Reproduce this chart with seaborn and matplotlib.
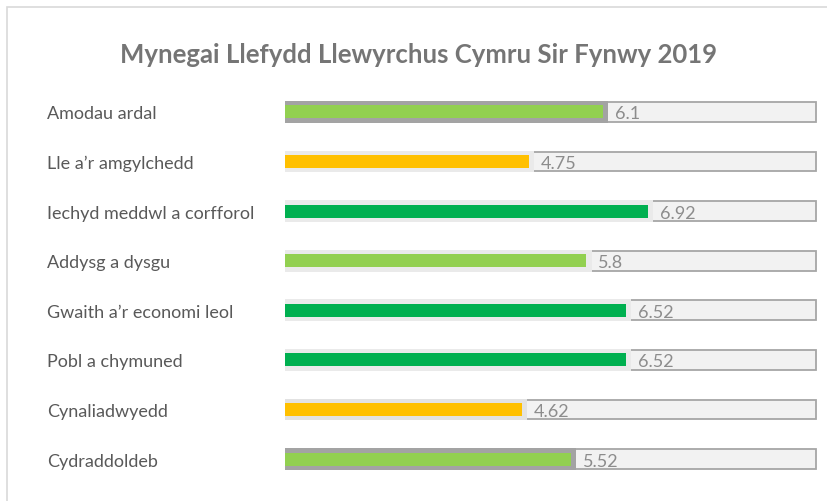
import matplotlib
matplotlib.use("Agg")
import matplotlib.pyplot as plt
import seaborn as sns
import pandas as pd
from matplotlib.patches import Rectangle

categories = ["Amodau ardal", "Lle a\u2019r amgylchedd", "Iechyd meddwl a corfforol",
              "Addysg a dysgu", "Gwaith a\u2019r economi leol", "Pobl a chymuned",
              "Cynaliadwyedd", "Cydraddoldeb"]
values = [6.1, 4.75, 6.92, 5.8, 6.52, 6.52, 4.62, 5.52]
max_value = 10
title = "Mynegai Llefydd Llewyrchus Cymru Sir Fynwy 2019"

bar_colors = ["#92D050", "#FFC000", "#00B050", "#92D050", "#00B050", "#00B050", "#FFC000", "#92D050"]
shadow_colors = ["#A3A3A3", "#EAEAEA", "#EAEAEA", "#EAEAEA", "#EAEAEA", "#EAEAEA", "#E2E2E2", "#A3A3A3"]

sns.set_theme(style="white")
plt.rcParams["font.family"] = ["Lato", "DejaVu Sans"]

W, H = 827, 502
fig = plt.figure(figsize=(W / 100, H / 100), dpi=100)
fig.patch.set_facecolor("white")
fig.patches.append(Rectangle((7 / W, -0.2), 1.2, 1 - 8 / H + 0.2, transform=fig.transFigure,
                             facecolor="none", edgecolor="#D9D9D9", linewidth=1.2))

ax = fig.add_axes([285 / W, 1 - 485 / H, (817 - 285) / W, 397 / H])

df = pd.DataFrame({"cat": categories, "val": values, "max": [max_value] * len(values)})

# background (max) bars
sns.barplot(data=df, x="max", y="cat", color="#F2F2F2", edgecolor="#A6A6A6", linewidth=1.3,
            width=0.40, saturation=1, ax=ax)
# shadow
sns.barplot(data=df, x=df["val"] + 0.1, y="cat", hue="cat", palette=shadow_colors, legend=False,
            width=0.44, saturation=1, linewidth=0, ax=ax)
# coloured value bars
sns.barplot(data=df, x="val", y="cat", hue="cat", palette=bar_colors, legend=False,
            width=0.26, saturation=1, linewidth=0, ax=ax)

for i, v in enumerate(values):
    ax.text(v + 0.22, i + 0.03, f"{v:g}", va="center", ha="left", fontsize=13, color="#8C8C8C")

ax.set_xlim(0.29, max_value + 0.02)
ax.set_ylim(len(categories) - 0.5, -0.5)
ax.set_xlabel("")
ax.set_ylabel("")
ax.set_xticks([])
for s in ax.spines.values():
    s.set_visible(False)
ax.tick_params(axis="y", length=0, pad=(285 - 47) * 0.72)
for lbl in ax.get_yticklabels():
    lbl.set_horizontalalignment("left")
    lbl.set_fontsize(13)
    lbl.set_color("#595959")

fig.text(419 / W, 1 - 55 / H, title, ha="center", va="center", fontsize=18.5,
         fontweight="bold", color="#757575")

fig.savefig("out.png", dpi=100, facecolor="white")
